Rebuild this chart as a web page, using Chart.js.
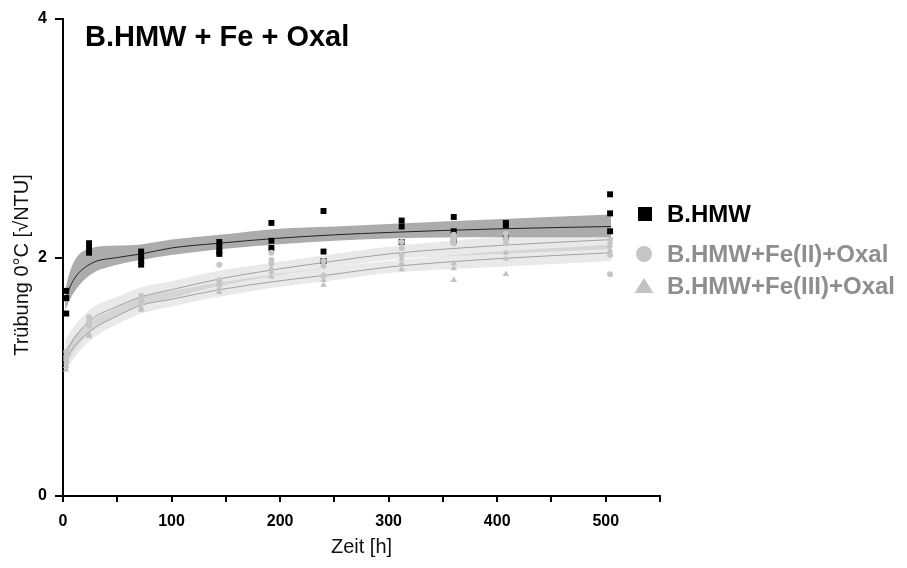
<!DOCTYPE html>
<html>
<head>
<meta charset="utf-8">
<script src="https://cdn.jsdelivr.net/npm/chart.js@4.4.0/dist/chart.umd.min.js"></script>
<style>
html,body{margin:0;padding:0;background:#fff;}
#wrap{width:907px;height:568px;}
</style>
</head>
<body>
<div id="wrap"><canvas id="c" width="907" height="568"></canvas></div>
<script>
// ---- data ----
const titleText = "B.HMW + Fe + Oxal";
const xAxisTitle = "Zeit [h]";
const yAxisTitle = "Trübung 0°C [√NTU]";
const seriesNames = ["B.HMW", "B.HMW+Fe(II)+Oxal", "B.HMW+Fe(III)+Oxal"];
const xTickLabels = [0, 100, 200, 300, 400, 500];
const yTickLabels = [0, 2, 4];

// B.HMW measurements
const hmwT = [3,3,3, 24,24,24, 72,72,72,72, 144,144,144,144, 192,192,192, 240,240,240, 312,312,312, 360,360,360, 408,408,408, 504,504,504];
const hmwY = [1.72,1.66,1.53, 2.12,2.08,2.04, 2.05,2.01,1.97,1.94, 2.13,2.09,2.05,2.03, 2.29,2.14,2.08, 2.39,2.05,1.97, 2.31,2.26,2.13, 2.34,2.22,2.14, 2.29,2.27,2.17, 2.53,2.37,2.22];
// B.HMW+Fe(II)+Oxal measurements
const fe2T = [3,3,3, 24,24,24, 72,72,72, 144,144,144, 192,192,192, 240,240,240, 312,312,312, 360,360,360, 408,408,408, 504,504,504];
const fe2Y = [1.21,1.17,1.14, 1.50,1.46,1.43, 1.68,1.64,1.62, 1.94,1.81,1.78, 2.04,1.98,1.95, 1.97,1.93,1.85, 2.13,2.08,2.02, 2.19,2.15,2.12, 2.20,2.16,2.12, 2.15,2.02,1.86];
// B.HMW+Fe(III)+Oxal measurements
const fe3T = [3,3,3, 24,24,24, 72,72,72, 144,144,144, 192,192,192, 240,240,240, 312,312,312, 360,360,360, 408,408,408, 504,504,504];
const fe3Y = [1.12,1.09,1.06, 1.43,1.36,1.34, 1.62,1.58,1.56, 1.77,1.74,1.71, 1.91,1.88,1.84, 1.85,1.81,1.77, 1.99,1.95,1.90, 1.95,1.91,1.81, 2.04,1.99,1.86, 2.13,2.10,2.06];

// fitted curves and confidence bands (read at these times)
const fitT   = [2, 5, 11, 26, 50, 72, 100, 144, 196, 250, 300, 400, 505];
const hmwFit = [1.63, 1.72, 1.83, 1.95, 2.00, 2.03, 2.08, 2.12, 2.16, 2.19, 2.21, 2.24, 2.26];
const hmwLo  = [1.55, 1.62, 1.72, 1.86, 1.94, 1.98, 2.02, 2.07, 2.11, 2.14, 2.16, 2.17, 2.17];
const hmwHi  = [1.72, 1.84, 1.98, 2.08, 2.10, 2.11, 2.15, 2.19, 2.24, 2.26, 2.28, 2.32, 2.36];
const fe2Fit = [1.19, 1.24, 1.33, 1.48, 1.59, 1.67, 1.73, 1.82, 1.90, 1.97, 2.03, 2.10, 2.15];
const fe2Lo  = [1.07, 1.13, 1.23, 1.38, 1.51, 1.60, 1.66, 1.76, 1.85, 1.92, 1.98, 2.03, 2.07];
const fe2Hi  = [1.30, 1.35, 1.43, 1.57, 1.67, 1.75, 1.80, 1.89, 1.96, 2.03, 2.09, 2.17, 2.23];
const fe3Fit = [1.12, 1.18, 1.26, 1.39, 1.51, 1.60, 1.65, 1.73, 1.80, 1.86, 1.92, 1.99, 2.04];
const fe3Lo  = [1.02, 1.08, 1.17, 1.31, 1.44, 1.53, 1.59, 1.67, 1.75, 1.81, 1.87, 1.92, 1.97];
const fe3Hi  = [1.22, 1.27, 1.35, 1.47, 1.58, 1.67, 1.72, 1.79, 1.86, 1.92, 1.97, 2.05, 2.11];

// ---- build datasets ----
const pts = (xs, ys) => xs.map((x, i) => ({x: x, y: ys[i]}));
const FONT = "'Liberation Sans', Arial, Helvetica, sans-serif";

const curve = (ys, color, order, extra) => Object.assign({
  type: 'line', data: pts(fitT, ys), showLine: true, pointRadius: 0, pointHoverRadius: 0,
  borderColor: color, borderWidth: 1, backgroundColor: color,
  cubicInterpolationMode: 'monotone', fill: false, order: order
}, extra || {});

const datasets = [
  // 0-5: bands
  curve(fe2Hi, 'rgba(0,0,0,0)', 10),
  curve(fe2Lo, 'rgba(0,0,0,0)', 10, {fill: '-1', backgroundColor: 'rgba(0,0,0,0.085)'}),
  curve(fe3Hi, 'rgba(0,0,0,0)', 9),
  curve(fe3Lo, 'rgba(0,0,0,0)', 9, {fill: '-1', backgroundColor: 'rgba(0,0,0,0.085)'}),
  curve(hmwHi, 'rgba(0,0,0,0)', 8),
  curve(hmwLo, 'rgba(0,0,0,0)', 8, {fill: '-1', backgroundColor: '#acacac'}),
  // fit lines
  curve(fe2Fit, '#a0a0a0', 5),
  curve(fe3Fit, '#a0a0a0', 5),
  curve(hmwFit, '#222222', 4),
  // points
  {type: 'scatter', label: seriesNames[0], data: pts(hmwT, hmwY), pointStyle: 'rect', pointRadius: 4.2,
   backgroundColor: '#000', borderColor: '#000', borderWidth: 0, order: 3},
  {type: 'scatter', label: seriesNames[1], data: pts(fe2T, fe2Y), pointStyle: 'circle', pointRadius: 3,
   backgroundColor: '#c6c6c6', borderColor: '#c6c6c6', borderWidth: 0, order: 1},
  {type: 'scatter', label: seriesNames[2], data: pts(fe3T, fe3Y), pointStyle: 'triangle', pointRadius: 3.8,
   backgroundColor: '#c2c2c2', borderColor: '#c2c2c2', borderWidth: 0, order: 2}
];

// ---- title, y-axis title & legend plugin ----
const overlay = {
  id: 'overlay',
  afterDraw(chart) {
    const ctx = chart.ctx;
    ctx.save();
    ctx.fillStyle = '#000';
    ctx.font = 'bold 29px ' + FONT;
    ctx.textBaseline = 'alphabetic';
    ctx.textAlign = 'left';
    ctx.fillText(titleText, 85, 46);

    // y-axis title
    ctx.save();
    ctx.translate(22, 265);
    ctx.rotate(-Math.PI / 2);
    ctx.textAlign = 'center';
    ctx.textBaseline = 'middle';
    ctx.font = '20px ' + FONT;
    ctx.fillStyle = '#111';
    ctx.fillText(yAxisTitle, 0, 0);
    ctx.restore();

    const rows = [
      {y: 214, style: 'rect', fill: '#000', text: '#000'},
      {y: 254, style: 'circle', fill: '#c6c6c6', text: '#8e8e8e'},
      {y: 286, style: 'triangle', fill: '#c2c2c2', text: '#8e8e8e'}
    ];
    rows.forEach((r, i) => {
      ctx.fillStyle = r.fill;
      ctx.beginPath();
      if (r.style === 'rect') {
        ctx.rect(638, r.y - 7, 14, 14);
      } else if (r.style === 'circle') {
        ctx.arc(644, r.y, 8, 0, Math.PI * 2);
      } else {
        ctx.moveTo(644, r.y - 8);
        ctx.lineTo(653.5, r.y + 7);
        ctx.lineTo(634.5, r.y + 7);
        ctx.closePath();
      }
      ctx.fill();
      ctx.fillStyle = r.text;
      ctx.font = 'bold 24px ' + FONT;
      ctx.textAlign = 'left';
      ctx.textBaseline = 'middle';
      ctx.fillText(seriesNames[i], 667, r.y + 1);
    });
    ctx.restore();
  }
};

new Chart(document.getElementById('c'), {
  type: 'scatter',
  data: {datasets: datasets},
  options: {
    responsive: false,
    devicePixelRatio: 1,
    animation: false,
    layout: {padding: {left: 0, right: 247, top: 19, bottom: 0}},
    plugins: {legend: {display: false}, tooltip: {enabled: false}},
    scales: {
      x: {
        type: 'linear', min: 0, max: 550,
        afterFit(s) { s.height = 72; },
        border: {display: true, color: '#000', width: 2},
        grid: {drawOnChartArea: false, drawTicks: true, tickLength: 6, color: '#000', lineWidth: 2},
        ticks: {
          stepSize: 50, autoSkip: false, maxRotation: 0, padding: 10, color: '#000',
          font: {family: FONT, size: 16, weight: 'bold'},
          callback: (v) => xTickLabels.includes(v) ? String(v) : ''
        },
        title: {display: true, text: xAxisTitle, color: '#111', font: {family: FONT, size: 20}, padding: {top: 0, bottom: 9}}
      },
      y: {
        type: 'linear', min: 0, max: 4,
        afterFit(s) { s.width = 63; },
        border: {display: true, color: '#000', width: 2},
        grid: {drawOnChartArea: false, drawTicks: true, tickLength: 8, color: '#000', lineWidth: 2},
        ticks: {
          stepSize: 2, autoSkip: false, padding: 8, color: '#000',
          font: {family: FONT, size: 16, weight: 'bold'},
          callback: (v) => yTickLabels.includes(v) ? String(v) : ''
        },
        title: {display: false}
      }
    }
  },
  plugins: [overlay]
});
</script>
</body>
</html>
